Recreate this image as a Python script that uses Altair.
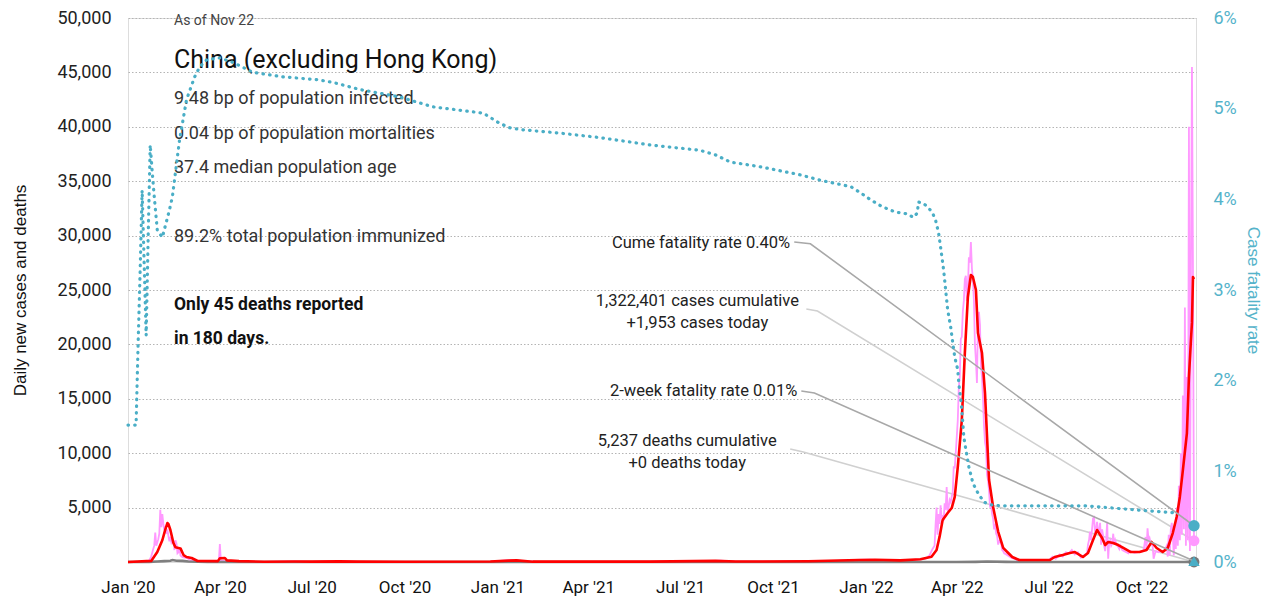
import altair as alt
import pandas as pd

# ---------------- data ----------------
# daily new cases (pink)
case_dates = [
    "2020-01-01", "2020-01-20", "2020-01-22", "2020-01-24", "2020-01-26", "2020-01-27", "2020-01-28",
    "2020-01-29", "2020-01-30", "2020-01-31", "2020-02-01", "2020-02-02", "2020-02-03", "2020-02-04",
    "2020-02-05", "2020-02-06", "2020-02-07", "2020-02-08", "2020-02-09", "2020-02-10", "2020-02-11",
    "2020-02-12", "2020-02-13", "2020-02-14", "2020-02-15", "2020-02-16", "2020-02-17", "2020-02-18",
    "2020-02-19", "2020-02-20", "2020-02-21", "2020-02-22", "2020-02-24", "2020-02-26", "2020-02-29",
    "2020-03-03", "2020-03-07", "2020-03-12", "2020-03-25", "2020-03-31", "2020-04-01", "2020-04-02",
    "2020-04-06", "2020-04-12", "2020-04-20", "2020-05-15", "2020-06-14", "2020-07-01", "2020-07-28",
    "2020-08-15", "2020-10-01", "2020-11-15", "2020-12-25", "2021-01-10", "2021-01-15", "2021-01-25",
    "2021-02-10", "2021-04-01", "2021-06-01", "2021-07-30", "2021-08-10", "2021-08-25", "2021-10-01",
    "2021-11-05", "2021-11-20", "2021-12-20", "2022-01-05", "2022-01-20", "2022-02-10", "2022-02-24",
    "2022-03-01", "2022-03-05", "2022-03-08", "2022-03-10", "2022-03-11", "2022-03-12", "2022-03-13",
    "2022-03-14", "2022-03-15", "2022-03-16", "2022-03-17", "2022-03-18", "2022-03-19", "2022-03-20",
    "2022-03-21", "2022-03-22", "2022-03-23", "2022-03-24", "2022-03-25", "2022-03-26", "2022-03-27",
    "2022-03-28", "2022-03-29", "2022-03-30", "2022-03-31", "2022-04-01", "2022-04-02", "2022-04-03",
    "2022-04-04", "2022-04-05", "2022-04-06", "2022-04-07", "2022-04-08", "2022-04-09", "2022-04-10",
    "2022-04-11", "2022-04-12", "2022-04-13", "2022-04-14", "2022-04-15", "2022-04-16", "2022-04-17",
    "2022-04-18", "2022-04-19", "2022-04-20", "2022-04-21", "2022-04-22", "2022-04-23", "2022-04-24",
    "2022-04-25", "2022-04-26", "2022-04-27", "2022-04-28", "2022-04-29", "2022-04-30", "2022-05-01",
    "2022-05-02", "2022-05-03", "2022-05-04", "2022-05-05", "2022-05-06", "2022-05-07", "2022-05-08",
    "2022-05-09", "2022-05-10", "2022-05-11", "2022-05-12", "2022-05-13", "2022-05-14", "2022-05-15",
    "2022-05-16", "2022-05-17", "2022-05-18", "2022-05-20", "2022-05-25", "2022-06-01", "2022-06-15",
    "2022-07-01", "2022-07-05", "2022-07-08", "2022-07-12", "2022-07-15", "2022-07-18", "2022-07-21",
    "2022-07-24", "2022-07-27", "2022-07-30", "2022-08-02", "2022-08-05", "2022-08-08", "2022-08-09",
    "2022-08-10", "2022-08-11", "2022-08-12", "2022-08-13", "2022-08-14", "2022-08-15", "2022-08-16",
    "2022-08-17", "2022-08-18", "2022-08-19", "2022-08-20", "2022-08-21", "2022-08-22", "2022-08-23",
    "2022-08-24", "2022-08-25", "2022-08-26", "2022-08-27", "2022-08-28", "2022-08-29", "2022-08-30",
    "2022-08-31", "2022-09-01", "2022-09-02", "2022-09-03", "2022-09-04", "2022-09-05", "2022-09-06",
    "2022-09-07", "2022-09-08", "2022-09-09", "2022-09-10", "2022-09-12", "2022-09-14", "2022-09-16",
    "2022-09-18", "2022-09-20", "2022-09-24", "2022-09-28", "2022-10-01", "2022-10-03", "2022-10-05",
    "2022-10-06", "2022-10-07", "2022-10-08", "2022-10-09", "2022-10-10", "2022-10-11", "2022-10-12",
    "2022-10-13", "2022-10-15", "2022-10-18", "2022-10-20", "2022-10-22", "2022-10-24", "2022-10-26",
    "2022-10-27", "2022-10-28", "2022-10-29", "2022-10-30", "2022-10-31", "2022-11-01", "2022-11-02",
    "2022-11-03", "2022-11-04", "2022-11-05", "2022-11-06", "2022-11-07", "2022-11-08", "2022-11-09",
    "2022-11-10", "2022-11-11", "2022-11-12", "2022-11-13", "2022-11-14", "2022-11-15", "2022-11-16",
    "2022-11-17", "2022-11-18", "2022-11-19", "2022-11-20", "2022-11-21", "2022-11-22",
]
case_values = [
    0, 0, 150, 500, 1200, 1500, 2700,
    1500, 1800, 2100, 2600, 4800, 3200, 4400,
    3500, 2900, 3300, 2600, 3000, 2400, 1900,
    2300, 1800, 2000, 1900, 1100, 2000, 1700,
    800, 900, 1300, 600, 450, 400, 350,
    150, 80, 30, 60, 80, 1650, 120,
    80, 100, 20, 10, 50, 20, 70,
    20, 15, 20, 40, 140, 160, 100,
    15, 15, 30, 80, 120, 30, 30,
    90, 40, 200, 220, 100, 150, 250,
    300, 600, 1200, 1500, 3400, 5000, 2500,
    4400, 3500, 5200, 4000, 4300, 3800, 5400,
    4800, 6900, 4700, 5000, 5700, 5500, 6000,
    6400, 8800, 8600, 10000, 11500, 13000, 16000,
    17000, 20500, 20700, 23000, 24000, 26000, 26300,
    24000, 25000, 28000, 27500, 29400, 27000, 26000,
    24000, 20000, 18500, 16450, 22000, 23000, 21800,
    18000, 17000, 15000, 12500, 11000, 10500, 8000,
    7500, 6500, 5000, 5300, 4400, 4000, 3000,
    3500, 2600, 2400, 1600, 1900, 2000, 1700,
    1100, 1000, 800, 700, 400, 150, 200,
    150, 500, 300, 700, 500, 900, 800,
    1100, 700, 900, 400, 600, 800, 1600,
    2000, 2800, 2000, 3000, 4000, 4100, 2600,
    3000, 3700, 2900, 2600, 3600, 1600, 3000,
    2400, 1500, 1000, 2000, 3700, 300, 1800,
    2000, 1500, 1700, 2600, 1600, 2000, 1700,
    1500, 1400, 1200, 1500, 1100, 1000, 900,
    800, 1000, 850, 900, 950, 1000, 2300,
    1200, 3100, 2000, 2200, 1800, 1600, 1500,
    300, 1000, 900, 1000, 1000, 1100, 1500,
    500, 2500, 600, 3000, 3600, 2500, 600,
    3500, 1200, 5000, 1500, 7000, 2000, 10000,
    2500, 15300, 3000, 23400, 1500, 17000, 2000,
    40000, 1000, 27000, 45500, 26800, 1953,
]

# 7-day average of new cases (red)
avg_dates = [
    "2020-01-01", "2020-01-24", "2020-01-30", "2020-02-04", "2020-02-07", "2020-02-09", "2020-02-10",
    "2020-02-12", "2020-02-15", "2020-02-17", "2020-02-20", "2020-02-22", "2020-02-25", "2020-02-28",
    "2020-03-04", "2020-03-10", "2020-03-30", "2020-04-01", "2020-04-06", "2020-04-08", "2020-04-20",
    "2020-05-15", "2020-06-14", "2020-07-01", "2020-07-28", "2020-08-15", "2020-10-01", "2020-12-25",
    "2021-01-12", "2021-01-20", "2021-02-05", "2021-06-01", "2021-08-05", "2021-08-25", "2021-11-05",
    "2021-12-25", "2022-01-10", "2022-02-04", "2022-02-24", "2022-03-07", "2022-03-12", "2022-03-15",
    "2022-03-18", "2022-03-23", "2022-03-27", "2022-03-30", "2022-04-02", "2022-04-06", "2022-04-09",
    "2022-04-12", "2022-04-15", "2022-04-17", "2022-04-20", "2022-04-22", "2022-04-26", "2022-04-29",
    "2022-05-01", "2022-05-03", "2022-05-07", "2022-05-12", "2022-05-17", "2022-05-21", "2022-05-26",
    "2022-06-02", "2022-07-02", "2022-07-07", "2022-07-15", "2022-07-22", "2022-07-27", "2022-08-01",
    "2022-08-04", "2022-08-09", "2022-08-14", "2022-08-18", "2022-08-23", "2022-08-26", "2022-08-29",
    "2022-09-03", "2022-09-08", "2022-09-13", "2022-09-20", "2022-09-29", "2022-10-06", "2022-10-11",
    "2022-10-16", "2022-10-22", "2022-10-27", "2022-11-01", "2022-11-05", "2022-11-08", "2022-11-11",
    "2022-11-15", "2022-11-17", "2022-11-19", "2022-11-20", "2022-11-21", "2022-11-22",
]
avg_values = [
    0, 100, 920, 2000, 3000, 3580, 3500,
    2940, 1750, 1350, 1290, 1250, 640, 460,
    370, 90, 80, 350, 370, 150, 80,
    20, 40, 30, 60, 30, 20, 40,
    130, 150, 30, 30, 100, 40, 70,
    180, 200, 150, 250, 490, 1100, 2330,
    3860, 4500, 4960, 5980, 8730, 13050, 19200,
    24350, 26380, 26200, 25000, 21050, 19200, 15500,
    11500, 7540, 5050, 2800, 1300, 920, 460,
    180, 180, 460, 640, 830, 920, 640,
    460, 830, 2020, 2940, 2200, 1560, 1840,
    1750, 1560, 1290, 920, 920, 1100, 1840,
    1290, 920, 1290, 2660, 4200, 5980, 8450,
    11850, 17000, 20400, 22000, 26200, 26000,
]

# 7-day average of new deaths (grey)
death_dates = [
    "2020-01-01", "2020-01-22", "2020-01-30", "2020-02-06", "2020-02-12", "2020-02-14", "2020-02-18",
    "2020-02-24", "2020-03-01", "2020-03-10", "2020-03-20", "2020-04-10", "2020-05-01", "2022-04-01",
    "2022-04-20", "2022-05-01", "2022-05-20", "2022-06-10", "2022-11-22",
]
death_values = [0, 10, 40, 80, 120, 180, 120, 100, 40, 20, 8, 2, 0, 0, 15, 40, 10, 0, 0]

# case fatality rate, percent (dotted teal, right axis)
cfr_dates = [
    "2020-01-01", "2020-01-09", "2020-01-11", "2020-01-13", "2020-01-15", "2020-01-17", "2020-01-19",
    "2020-01-21", "2020-01-23", "2020-01-25", "2020-01-27", "2020-01-30", "2020-02-04", "2020-02-11",
    "2020-02-14", "2020-02-21", "2020-02-28", "2020-03-07", "2020-03-12", "2020-03-19", "2020-04-01",
    "2020-04-14", "2020-05-04", "2020-06-03", "2020-07-06", "2020-07-22", "2020-08-18", "2020-09-26",
    "2020-10-29", "2020-12-18", "2021-01-03", "2021-01-13", "2021-01-23", "2021-03-04", "2021-04-13",
    "2021-06-01", "2021-07-21", "2021-08-05", "2021-08-20", "2021-09-18", "2021-10-28", "2021-11-17",
    "2021-12-17", "2021-12-27", "2022-01-05", "2022-01-17", "2022-01-30", "2022-02-11", "2022-02-17",
    "2022-02-21", "2022-02-22", "2022-02-26", "2022-03-03", "2022-03-08", "2022-03-11", "2022-03-14",
    "2022-03-16", "2022-03-19", "2022-03-21", "2022-03-23", "2022-03-26", "2022-03-28", "2022-03-30",
    "2022-04-02", "2022-04-03", "2022-04-05", "2022-04-06", "2022-04-07", "2022-04-08", "2022-04-10",
    "2022-04-13", "2022-04-17", "2022-04-22", "2022-04-28", "2022-05-05", "2022-05-15", "2022-08-05",
    "2022-11-05",
]
cfr_values = [
    1.51, 1.51, 2.40, 3.20, 4.10, 3.30, 2.50,
    3.60, 4.60, 4.30, 4.03, 3.66, 3.58, 3.88,
    4.03, 4.65, 5.10, 5.35, 5.46, 5.54, 5.56,
    5.51, 5.40, 5.35, 5.32, 5.29, 5.21, 5.13,
    5.02, 4.95, 4.84, 4.79, 4.77, 4.73, 4.68,
    4.60, 4.54, 4.49, 4.41, 4.36, 4.27, 4.21,
    4.14, 4.07, 4.00, 3.92, 3.86, 3.84, 3.80,
    3.85, 3.97, 3.96, 3.92, 3.85, 3.77, 3.63,
    3.47, 3.22, 3.00, 2.78, 2.59, 2.42, 2.26,
    2.12, 1.97, 1.79, 1.68, 1.53, 1.38, 1.24,
    1.05, 0.87, 0.76, 0.66, 0.63, 0.62, 0.62,
    0.54,
]

today = "2022-11-22"
cases_today = 1953
deaths_today = 0
cume_cfr = 0.40
two_week_cfr = 0.01

# annotation anchors (data coordinates)
left_label_dates = ["2021-07-18", "2021-07-18", "2021-07-08", "2021-07-08"]
left_label_values = [23530, 21480, 10690, 8610]
left_label_texts = ["1,322,401 cases cumulative", "+1,953 cases today",
                    "5,237 deaths cumulative", "+0 deaths today"]

right_label_dates = ["2021-10-18", "2021-10-25"]
right_label_values = [3.46, 1.834]
right_label_texts = ["Cume fatality rate 0.40%", "2-week fatality rate 0.01%"]

left_conn_ids = ["cases", "cases", "cases", "deaths", "deaths", "deaths"]
left_conn_dates = ["2021-11-03", "2021-11-14", today, "2021-10-18", "2021-10-31", today]
left_conn_values = [23250, 23070, cases_today, 10386, 10110, deaths_today]
left_conn_colors = ["#d0d0d0"] * 6

right_conn_ids = ["cume", "cume", "cume", "twoweek", "twoweek", "twoweek"]
right_conn_dates = ["2021-10-22", "2021-11-07", today, "2021-10-29", "2021-11-11", today]
right_conn_values = [3.53, 3.51, cume_cfr, 1.886, 1.864, two_week_cfr]
right_conn_colors = ["#a8a8a8"] * 6

header_lines = [
    "As of Nov 22",
    "China (excluding Hong Kong)",
    "9.48 bp of population infected",
    "0.04 bp of population mortalities",
    "37.4 median population age",
    "89.2% total population immunized",
    "Only 45 deaths reported",
    "in 180 days.",
]

# ---------------- styling ----------------
NARROW = "Roboto, 'Liberation Sans', sans-serif"
REG = "'Liberation Sans', Arial, sans-serif"
TEAL = "#4aaec6"
TEAL_LABEL = "#55b3ca"
PINK = "#ff99ff"
RED = "#ff0000"
GREY = "#7f7f7f"

# ---------------- frames ----------------
cases_df = pd.DataFrame({"date": case_dates, "value": case_values})
avg_df = pd.DataFrame({"date": avg_dates, "value": avg_values})
death_df = pd.DataFrame({"date": death_dates, "value": death_values})
cfr_df = pd.DataFrame({"date": cfr_dates, "value": [v / 100 for v in cfr_values]})
left_mark_df = pd.DataFrame({"date": [today, today], "value": [cases_today, deaths_today],
                             "kind": ["cases", "deaths"]})
right_mark_df = pd.DataFrame({"date": [today, today], "value": [cume_cfr / 100, two_week_cfr / 100],
                              "kind": ["cume", "twoweek"]})
left_lab_df = pd.DataFrame({"date": left_label_dates, "value": left_label_values, "t": left_label_texts})
right_lab_df = pd.DataFrame({"date": right_label_dates, "value": [v / 100 for v in right_label_values],
                             "t": right_label_texts})
left_conn_df = pd.DataFrame({"id": left_conn_ids, "date": left_conn_dates, "value": left_conn_values,
                             "col": left_conn_colors, "o": list(range(6))})
right_conn_df = pd.DataFrame({"id": right_conn_ids, "date": right_conn_dates,
                              "value": [v / 100 for v in right_conn_values],
                              "col": right_conn_colors, "o": list(range(6))})

# ---------------- encodings ----------------
x_scale = alt.Scale(type="utc", domain=[alt.DateTime(year=2020, month=1, date=1, utc=True),
                                        alt.DateTime(year=2022, month=11, date=24, utc=True)])
tick_dates = [alt.DateTime(year=y, month=m, date=1, utc=True) for y in (2020, 2021, 2022) for m in (1, 4, 7, 10)]
x_axis = alt.Axis(values=tick_dates, format="%b '%y", title=None, grid=False, domain=False, ticks=False,
                  tickSize=0, labelPadding=17, labelFont=NARROW, labelFontSize=17, labelColor="#111",
                  labelFlush=False, labelOverlap=False)
X = alt.X("date:T", scale=x_scale, axis=x_axis)

left_axis = alt.Axis(values=list(range(5000, 50001, 5000)), format=",.0f", grid=True, gridColor="#b4b4b4",
                     gridDash=[1.5, 2], gridWidth=1, domain=False, ticks=False, tickSize=0,
                     labelPadding=17, labelFont=NARROW, labelFontSize=18, labelColor="#222",
                     title="Daily new cases and deaths", titleFont=REG, titleFontSize=17,
                     titleFontWeight="normal", titleColor="#111", titleAngle=-90, titleX=-108, titleY=272,
                     titleAlign="center", titleBaseline="middle")
YL = alt.Y("value:Q", scale=alt.Scale(domain=[0, 50000]), axis=left_axis)

right_axis = alt.Axis(orient="right", values=[0, 0.01, 0.02, 0.03, 0.04, 0.05, 0.06], format=".0%",
                      grid=False, domain=False, ticks=False, tickSize=0, labelPadding=17,
                      labelFont=NARROW, labelFontSize=18, labelColor=TEAL_LABEL,
                      title="Case fatality rate", titleFont=REG, titleFontSize=17, titleFontWeight="normal",
                      titleColor=TEAL_LABEL, titleAngle=90, titleX=56, titleY=272, titleAlign="center",
                      titleBaseline="middle")
YR = alt.Y("value:Q", scale=alt.Scale(domain=[0, 0.06]), axis=right_axis)

# ---------------- left group ----------------
left_conn = alt.Chart(left_conn_df).mark_line(strokeWidth=1.6).encode(
    x=X, y=YL, detail="id:N", order="o:Q", color=alt.Color("col:N", scale=None))
pink = alt.Chart(cases_df).mark_line(color=PINK, strokeWidth=1.8).encode(x=X, y=YL)
grey = alt.Chart(death_df).mark_line(color=GREY, strokeWidth=2.6).encode(x=X, y=YL)
red = alt.Chart(avg_df).mark_line(color=RED, strokeWidth=2.6, strokeJoin="round").encode(x=X, y=YL)
left_marks = alt.Chart(left_mark_df).mark_point(filled=True, opacity=1, size=120, shape="circle").encode(
    x=X, y=YL, color=alt.Color("kind:N", scale=alt.Scale(domain=["cases", "deaths"], range=[PINK, "#777777"]),
                               legend=None))
left_labels = alt.Chart(left_lab_df).mark_text(font=NARROW, fontSize=16.5, color="#222", align="center",
                                               baseline="alphabetic").encode(x=X, y=YL, text="t:N")

one = pd.DataFrame({"k": [0]})
header_specs = [
    (header_lines[0], 7, 14, "normal", "#444"),
    (header_lines[1], 50, 25, "normal", "#111"),
    (header_lines[2], 86, 18, "normal", "#333"),
    (header_lines[3], 121, 18, "normal", "#333"),
    (header_lines[4], 155, 18, "normal", "#333"),
    (header_lines[5], 224, 18, "normal", "#333"),
    (header_lines[6], 292, 17.5, "bold", "#111"),
    (header_lines[7], 326, 17.5, "bold", "#111"),
]
headers = [
    alt.Chart(one).mark_text(text=t, font=NARROW, fontSize=fs, fontWeight=fw, color=c, align="left",
                             baseline="alphabetic").encode(x=alt.value(46), y=alt.value(yy))
    for (t, yy, fs, fw, c) in header_specs
]

left_group = alt.layer(left_conn, pink, grey, red, left_marks, left_labels, *headers)

# ---------------- right group ----------------
right_conn = alt.Chart(right_conn_df).mark_line(strokeWidth=1.6).encode(
    x=X, y=YR, detail="id:N", order="o:Q", color=alt.Color("col:N", scale=None))
cfr = alt.Chart(cfr_df).mark_line(color=TEAL, strokeWidth=3.2, strokeDash=[0.5, 6.2],
                                  strokeCap="round").encode(x=X, y=YR)
right_marks = alt.Chart(right_mark_df).mark_point(filled=True, opacity=1, color=TEAL, size=130).encode(
    x=X, y=YR, shape=alt.Shape("kind:N", scale=alt.Scale(domain=["cume", "twoweek"],
                                                          range=["circle", "triangle-up"]), legend=None))
right_labels = alt.Chart(right_lab_df).mark_text(font=NARROW, fontSize=16.5, color="#222", align="right",
                                                 baseline="alphabetic").encode(x=X, y=YR, text="t:N")

right_group = alt.layer(right_conn, cfr, right_marks, right_labels)

chart = alt.layer(left_group, right_group).resolve_scale(y="independent").properties(
    width=1068, height=544,
    autosize=alt.AutoSizeParams(type="none"),
    padding={"left": 120, "top": 10, "right": 66, "bottom": 40},
).configure_view(stroke=None).configure(background="white")

chart.save("out.html", embed_options={"renderer": "svg", "actions": False})
